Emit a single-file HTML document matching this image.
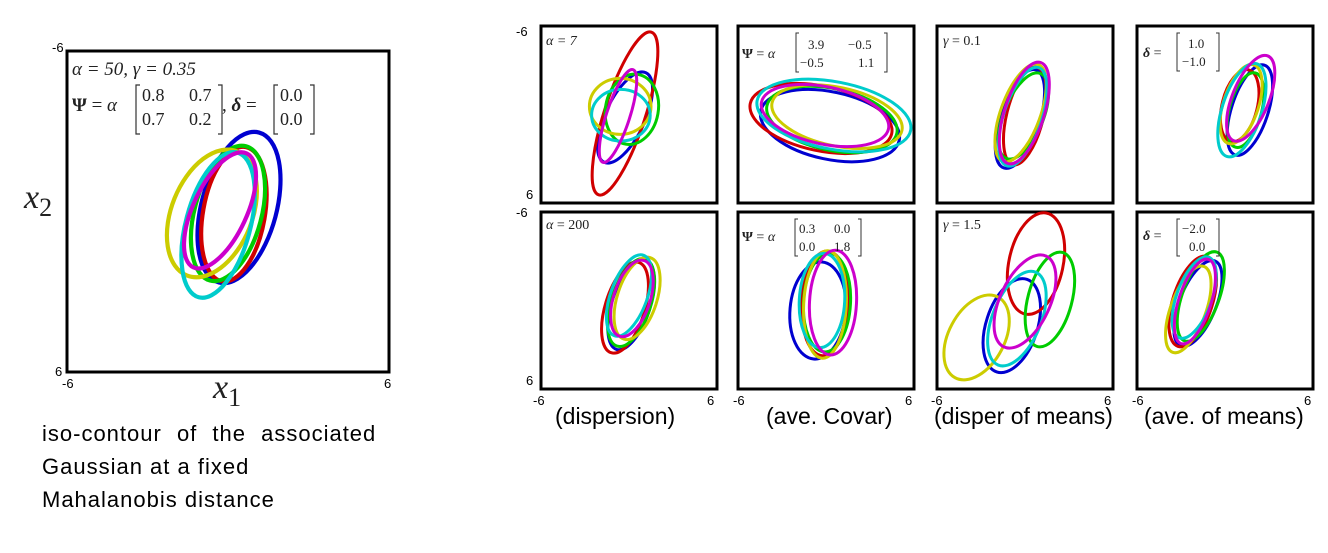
<!DOCTYPE html>
<html><head><meta charset="utf-8"><style>
html,body{margin:0;padding:0;background:#fff;}
svg{display:block;}
.tk{font-family:"Liberation Sans",sans-serif;font-size:13px;fill:#000;}
.ann{font-family:"Liberation Serif",serif;fill:#222;}
.cap{font-family:"Liberation Sans",sans-serif;font-size:23px;fill:#000;}
.desc{font-family:"Liberation Sans",sans-serif;font-size:22px;letter-spacing:1px;fill:#000;}
</style></head><body>
<svg id="fig" width="1328" height="553" viewBox="0 0 1328 553" xmlns="http://www.w3.org/2000/svg">
<g id="frames"></g>
<g id="curves"></g>
<g>
  <text class="ann" x="72" y="75" font-size="19" font-style="italic">α = 50, γ = 0.35</text>
  <text class="ann" x="72" y="111" font-size="19"><tspan font-weight="bold">Ψ</tspan> = <tspan font-style="italic">α</tspan></text>
  <path d="M140,85 h-4 v49 h4 M218,85 h4 v49 h-4" stroke="#333" fill="none" stroke-width="1.2"/>
  <text class="ann" x="142" y="101" font-size="18">0.8</text>
  <text class="ann" x="189" y="101" font-size="18">0.7</text>
  <text class="ann" x="142" y="125" font-size="18">0.7</text>
  <text class="ann" x="189" y="125" font-size="18">0.2</text>
  <text class="ann" x="222" y="111" font-size="19">, <tspan font-weight="bold" font-style="italic">δ</tspan> = </text>
  <path d="M278,85 h-4 v49 h4 M310,85 h4 v49 h-4" stroke="#333" fill="none" stroke-width="1.2"/>
  <text class="ann" x="280" y="101" font-size="18">0.0</text>
  <text class="ann" x="280" y="125" font-size="18">0.0</text>
  <text class="ann" x="24" y="208" font-size="34" font-style="italic">x<tspan font-size="26" dy="8" font-style="normal">2</tspan></text>
  <text class="ann" x="213" y="398" font-size="34" font-style="italic">x<tspan font-size="26" dy="8" font-style="normal">1</tspan></text>
  <text class="tk" x="52" y="52">-6</text>
  <text class="tk" x="55" y="376">6</text>
  <text class="tk" x="62" y="388">-6</text>
  <text class="tk" x="384" y="388">6</text>
  <text class="desc" x="42" y="441" word-spacing="8">iso-contour of the associated</text>
  <text class="desc" x="42" y="474">Gaussian at a fixed</text>
  <text class="desc" x="42" y="507">Mahalanobis distance</text>

  <text class="ann" x="546" y="45" font-size="14" font-style="italic">α = 7</text>
  <text class="ann" x="742" y="58" font-size="14"><tspan font-weight="bold">Ψ</tspan> = <tspan font-style="italic">α</tspan></text>
  <path d="M799,33 h-3 v39 h3 M884,33 h3 v39 h-3" stroke="#333" fill="none" stroke-width="1"/>
  <text class="ann" x="808" y="49" font-size="13">3.9</text><text class="ann" x="848" y="49" font-size="13">−0.5</text>
  <text class="ann" x="800" y="67" font-size="13">−0.5</text><text class="ann" x="858" y="67" font-size="13">1.1</text>
  <text class="ann" x="943" y="45" font-size="14"><tspan font-style="italic">γ</tspan> = 0.1</text>
  <text class="ann" x="1143" y="57" font-size="14"><tspan font-weight="bold" font-style="italic">δ</tspan> =</text>
  <path d="M1180,33 h-3 v38 h3 M1216,33 h3 v38 h-3" stroke="#333" fill="none" stroke-width="1"/>
  <text class="ann" x="1188" y="48" font-size="13">1.0</text><text class="ann" x="1182" y="66" font-size="13">−1.0</text>

  <text class="ann" x="546" y="229" font-size="14"><tspan font-style="italic">α</tspan> = 200</text>
  <text class="ann" x="742" y="241" font-size="14"><tspan font-weight="bold">Ψ</tspan> = <tspan font-style="italic">α</tspan></text>
  <path d="M798,219 h-3 v37 h3 M858,219 h3 v37 h-3" stroke="#333" fill="none" stroke-width="1"/>
  <text class="ann" x="799" y="233" font-size="13">0.3</text><text class="ann" x="834" y="233" font-size="13">0.0</text>
  <text class="ann" x="799" y="251" font-size="13">0.0</text><text class="ann" x="834" y="251" font-size="13">1.8</text>
  <text class="ann" x="943" y="229" font-size="14"><tspan font-style="italic">γ</tspan> = 1.5</text>
  <text class="ann" x="1143" y="240" font-size="14"><tspan font-weight="bold" font-style="italic">δ</tspan> =</text>
  <path d="M1180,219 h-3 v37 h3 M1216,219 h3 v37 h-3" stroke="#333" fill="none" stroke-width="1"/>
  <text class="ann" x="1182" y="233" font-size="13">−2.0</text><text class="ann" x="1189" y="251" font-size="13">0.0</text>

  <text class="tk" x="516" y="36">-6</text>
  <text class="tk" x="526" y="199">6</text>
  <text class="tk" x="516" y="217">-6</text>
  <text class="tk" x="526" y="385">6</text>
  <text class="tk" x="533" y="405">-6</text><text class="tk" x="707" y="405">6</text>
  <text class="tk" x="733" y="405">-6</text><text class="tk" x="905" y="405">6</text>
  <text class="tk" x="931" y="405">-6</text><text class="tk" x="1104" y="405">6</text>
  <text class="tk" x="1132" y="405">-6</text><text class="tk" x="1304" y="405">6</text>
  <text class="cap" x="555" y="424">(dispersion)</text>
  <text class="cap" x="766" y="424">(ave. Covar)</text>
  <text class="cap" x="934" y="424">(disper of means)</text>
  <text class="cap" x="1144" y="424">(ave. of means)</text>
</g>
</svg>
<script>
// series order: blue, red, green, yellow, cyan, magenta
const seriesColors = ["#0000d0","#d00000","#00cc00","#cccc00","#00cccc","#cc00cc"];
const panelNames = ["main","alpha-7","psi-cov","gamma-0-1","delta-1","alpha-200","psi-diag","gamma-1-5","delta-2"];
const centerX = [
  [0.41,0.22,0,-0.6,-0.37,-0.3],
  [-0.27,-0.27,0.2,-0.6,-0.55,-0.75],
  [0.27,-0.34,0.4,0.75,0.54,-0.07],
  [-0.35,0,-0.1,-0.3,-0.15,-0.05],
  [1.7,1.0,1.4,1.1,1.15,1.75],
  [0.14,-0.27,0.14,0.55,0,0.2],
  [-0.55,-0.07,0.07,-0.07,-0.27,0.48],
  [-0.9,0.75,1.7,-3.3,-0.55,0],
  [-1.85,-2.2,-1.65,-2.5,-2.1,-2.05]
];
const centerY = [
  [-0.15,0.1,0.07,0.07,0.5,-0.04],
  [0.2,-0.07,-0.35,-0.55,0.05,0.1],
  [0.75,0.27,0.34,0.14,0.07,0.07],
  [0.3,0.1,0.1,-0.1,0.15,-0.1],
  [-0.3,-0.6,-0.3,-0.7,-0.3,-1.1],
  [0.27,0.48,0.14,-0.14,-0.34,-0.14],
  [0.68,0.2,0.14,0.27,0,0.14],
  [1.7,-2.5,-0.07,2.5,1.23,0.07],
  [0.2,0.07,-0.27,0.6,-0.2,0.07]
];
const semiMajor = [
  [2.9,2.55,2.6,2.5,2.8,2.35],
  [3.35,5.8,2.4,1.9,1.75,3.3],
  [4.8,4.9,4.5,4.5,5.3,4.4],
  [3.5,3.4,3.1,3.5,3.5,3.6],
  [3.2,2.5,2.6,2.8,3.3,3.1],
  [3.2,3.2,3.1,2.9,2.9,2.7],
  [3.3,3.55,3.35,3.65,3.2,3.55],
  [3.3,3.5,3.3,3.1,3.4,3.4],
  [3.1,3.2,3.2,3.1,2.9,3.0]
];
const semiMinor = [
  [1.4,1.15,1.25,1.5,1.2,1.0],
  [1.35,1.4,1.8,2.1,2.0,0.8],
  [2.3,2.2,2.1,2.0,2.3,1.95],
  [1.35,1.25,1.35,1.35,1.3,1.35],
  [1.25,1.2,1.1,1.2,1.35,1.25],
  [1.3,1.35,1.35,1.35,1.25,1.25],
  [1.9,1.6,1.6,1.45,1.55,1.6],
  [1.75,1.85,1.5,1.9,1.65,1.7],
  [1.25,1.35,1.25,1.2,1.2,1.1]
];
const tiltDeg = [
  [15,10,15,22,15,25],
  [25,18,10,0,0,18],
  [102,102,102,102,101,102],
  [18,14,22,20,18,18],
  [18,14,15,18,18,22],
  [18,17,18,18,20,18],
  [5,3,3,3,3,3],
  [18,12,15,28,22,25],
  [22,18,20,20,20,18]
];
const domainMin = -6, domainMax = 6;

const NS = "http://www.w3.org/2000/svg";
function panelBox(p){
  if(p===0) return {l:67,t:51,w:322,h:321,sw:4.2};
  const cols=[541,738,937,1137], rows=[26,212];
  const i=p-1;
  return {l:cols[i%4], t:rows[Math.floor(i/4)], w:176, h:177, sw:3};
}
function xScale(b,v){return b.l+(v-domainMin)/(domainMax-domainMin)*b.w;}
function yScale(b,v){return b.t+(v-domainMin)/(domainMax-domainMin)*b.h;}
const frames=document.getElementById("frames"), curves=document.getElementById("curves");
for(let p=0;p<panelNames.length;p++){
  const b=panelBox(p);
  const g=document.createElementNS(NS,"g");
  
  
  curves.appendChild(g);
  for(let s=0;s<seriesColors.length;s++){
    const cx=xScale(b,centerX[p][s]), cy=yScale(b,centerY[p][s]);
    const rx=semiMinor[p][s]*b.w/12, ry=semiMajor[p][s]*b.h/12;
    const e=document.createElementNS(NS,"ellipse");
    e.setAttribute("cx",cx.toFixed(1));e.setAttribute("cy",cy.toFixed(1));
    e.setAttribute("rx",rx.toFixed(1));e.setAttribute("ry",ry.toFixed(1));
    e.setAttribute("transform","rotate("+tiltDeg[p][s]+" "+cx.toFixed(1)+" "+cy.toFixed(1)+")");
    e.setAttribute("fill","none");e.setAttribute("stroke",seriesColors[s]);
    e.setAttribute("stroke-width",b.sw);
    
    
    g.appendChild(e);
  }
  const r=document.createElementNS(NS,"rect");
  r.setAttribute("x",b.l);r.setAttribute("y",b.t);r.setAttribute("width",b.w);r.setAttribute("height",b.h);
  r.setAttribute("fill","none");r.setAttribute("stroke","#000");r.setAttribute("stroke-width",3);
  
  
  frames.appendChild(r);
}
</script>
</body></html>
